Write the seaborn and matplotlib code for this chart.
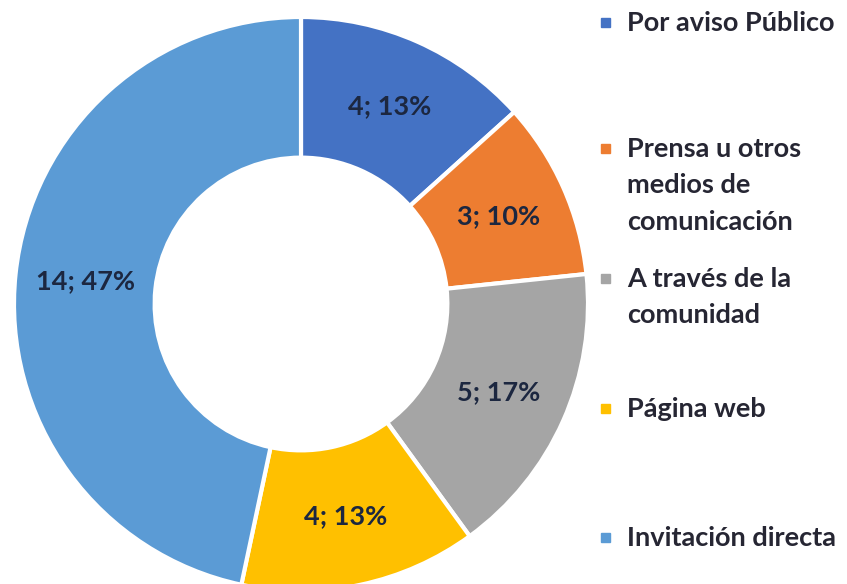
import matplotlib
matplotlib.use("Agg")
import matplotlib.pyplot as plt
from matplotlib.patches import Rectangle
import numpy as np
import seaborn as sns

categorias = ['Por aviso Público', 'Prensa u otros\nmedios de\ncomunicación',
              'A través de la\ncomunidad', 'Página web', 'Invitación directa']
valores = [4, 3, 5, 4, 14]
porcentajes = [13, 10, 17, 13, 47]
colores = ['#4472C4', '#ED7D31', '#A5A5A5', '#FFC000', '#5B9BD5']

sns.set_theme(style='white')
plt.rcParams['font.family'] = ['Lato', 'DejaVu Sans']

fig = plt.figure(figsize=(8.47, 5.84), dpi=100)
# axes placed so the donut centre is ~ (301, 304) px with radius ~287 px
ax = fig.add_axes([14/847, -7/584, 574/847, 574/584])

wedges, _ = ax.pie(valores, colors=colores, startangle=90, counterclock=False,
                   radius=1, wedgeprops=dict(width=0.49, edgecolor='white', linewidth=3))
ax.set_xlim(-1, 1)
ax.set_ylim(-1, 1)
ax.set_aspect('equal')
ax.axis('off')

for w, v, p in zip(wedges, valores, porcentajes):
    ang = np.deg2rad((w.theta1 + w.theta2) / 2)
    r = 1 - 0.49 / 2
    ax.text(r * np.cos(ang), r * np.sin(ang), f'{v}; {p}%', ha='center', va='center',
            fontsize=19.5, fontweight='bold', color='#1c2740')

# legend drawn by hand (Excel style, wrapped text)
leg_y = [22, 148, 278, 408, 537]
for cat, col, y in zip(categorias, colores, leg_y):
    fig.patches.append(Rectangle((601/847, 1 - (y + 5)/584), 9/847, 9/584,
                                 transform=fig.transFigure, color=col))
    fig.text(627/847, 1 - (y - 11)/584, cat, ha='left', va='top', fontsize=19.5,
             fontweight='bold', color='#262633', linespacing=1.62)

fig.savefig('out.png', dpi=100)
